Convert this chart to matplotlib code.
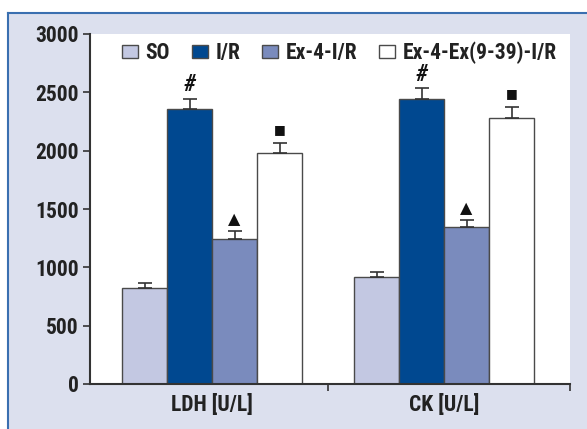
import matplotlib
matplotlib.use("Agg")
import matplotlib.pyplot as plt
from matplotlib.patches import Rectangle, Patch
from matplotlib.lines import Line2D
import numpy as np

categories = ["LDH [U/L]", "CK [U/L]"]
series = ["SO", "I/R", "Ex-4-I/R", "Ex-4-Ex(9-39)-I/R"]
so_vals = [825, 917]
ir_vals = [2360, 2443]
ex4_vals = [1246, 1343]
ex4ex_vals = [1977, 2277]
so_err = [38, 40]
ir_err = [83, 91]
ex4_err = [65, 60]
ex4ex_err = [86, 100]
marks = ["", "#", "\u25B2", "\u25A0"]
yticks = [0, 500, 1000, 1500, 2000, 2500, 3000]

colors = ["#c3c8e2", "#004890", "#7a8bbd", "#ffffff"]

FONT = ['Roboto Condensed', 'Archivo Narrow', 'DejaVu Sans']
plt.rcParams['font.family'] = FONT
plt.rcParams['font.weight'] = 'bold'
FS = 15.5

W, H = 587, 429
fig = plt.figure(figsize=(W / 100, H / 100), dpi=100)
fig.patch.set_facecolor("white")

# background panel
fig.patches.append(Rectangle((8 / W, 0), 1 - 8 / W, (H - 13) / H, transform=fig.transFigure,
                             facecolor="#dce0ee", edgecolor="none", zorder=-10))
fig.lines.append(Line2D([8 / W, 1], [(H - 13) / H] * 2, transform=fig.transFigure,
                        color="#3a6fb0", lw=1.5, zorder=-9))
fig.lines.append(Line2D([8 / W] * 2, [0, (H - 13) / H], transform=fig.transFigure,
                        color="#3a6fb0", lw=1.5, zorder=-9))

ax = fig.add_axes([90 / W, (H - 384) / H, (570 - 90) / W, (384 - 34) / H])
ax.set_facecolor("white")

x = np.arange(len(categories))
bw = 0.194
vals = [so_vals, ir_vals, ex4_vals, ex4ex_vals]
errs = [so_err, ir_err, ex4_err, ex4ex_err]
for i, (v, e, c, lab, m) in enumerate(zip(vals, errs, colors, series, marks)):
    pos = x + (i - 1.5) * bw
    ax.bar(pos, v, width=bw, color=c, edgecolor="#4a4a4a", linewidth=1.0, label=lab, zorder=2)
    ax.errorbar(pos, v, yerr=[np.zeros(len(v)), e], fmt="none", ecolor="#333333",
                elinewidth=1.2, capsize=5, capthick=1.2, zorder=3)
    if m:
        for p, vv, ee in zip(pos, v, e):
            if m == "#":
                ax.annotate(m, (p, vv + ee), xytext=(0, 2), textcoords="offset points",
                            ha="center", va="bottom", fontsize=17, color="#111111",
                            family=FONT, fontweight="bold", fontstyle="italic")
            elif m == "\u25B2":
                ax.annotate(m, (p, vv + ee), xytext=(0, 3), textcoords="offset points",
                            ha="center", va="bottom", fontsize=11.5, color="#111111",
                            family=['DejaVu Sans'])
            else:
                ax.annotate(m, (p, vv + ee), xytext=(0, 5), textcoords="offset points",
                            ha="center", va="bottom", fontsize=9, color="#111111",
                            family=['DejaVu Sans'])

ax.set_xlim(-0.526, 1.543)
ax.set_ylim(0, 3000)
ax.set_yticks(yticks)
ax.set_yticklabels([str(t) for t in yticks], fontsize=FS, fontweight="bold", color="#222222")
ax.set_xticks(x)
ax.set_xticklabels(categories, fontsize=FS, fontweight="bold", color="#222222")
ax.tick_params(axis="x", length=0, pad=7)
ax.set_xticks([0.5, 1.543], minor=True)
ax.tick_params(axis="x", which="minor", length=5, direction="out", color="#333333", width=1.2)
ax.tick_params(axis="y", length=5, direction="out", color="#333333", width=1.2, pad=3)
for s in ["top", "right"]:
    ax.spines[s].set_visible(False)
for s in ["left", "bottom"]:
    ax.spines[s].set_color("#333333")
    ax.spines[s].set_linewidth(1.5)

handles = [Patch(facecolor=c, edgecolor="#4a4a4a", linewidth=1.0) for c in colors]
leg = ax.legend(handles, series, loc="upper left", bbox_to_anchor=((122 - 90) / 480, 0.978),
                ncol=4, frameon=False, handlelength=0.75, handleheight=0.55,
                handletextpad=0.35, columnspacing=1.0, borderpad=0, borderaxespad=0,
                prop={'weight': 'bold', 'size': FS, 'family': FONT})
for t in leg.get_texts():
    t.set_color("#222222")

fig.savefig("out.png", dpi=100, facecolor=fig.get_facecolor())
